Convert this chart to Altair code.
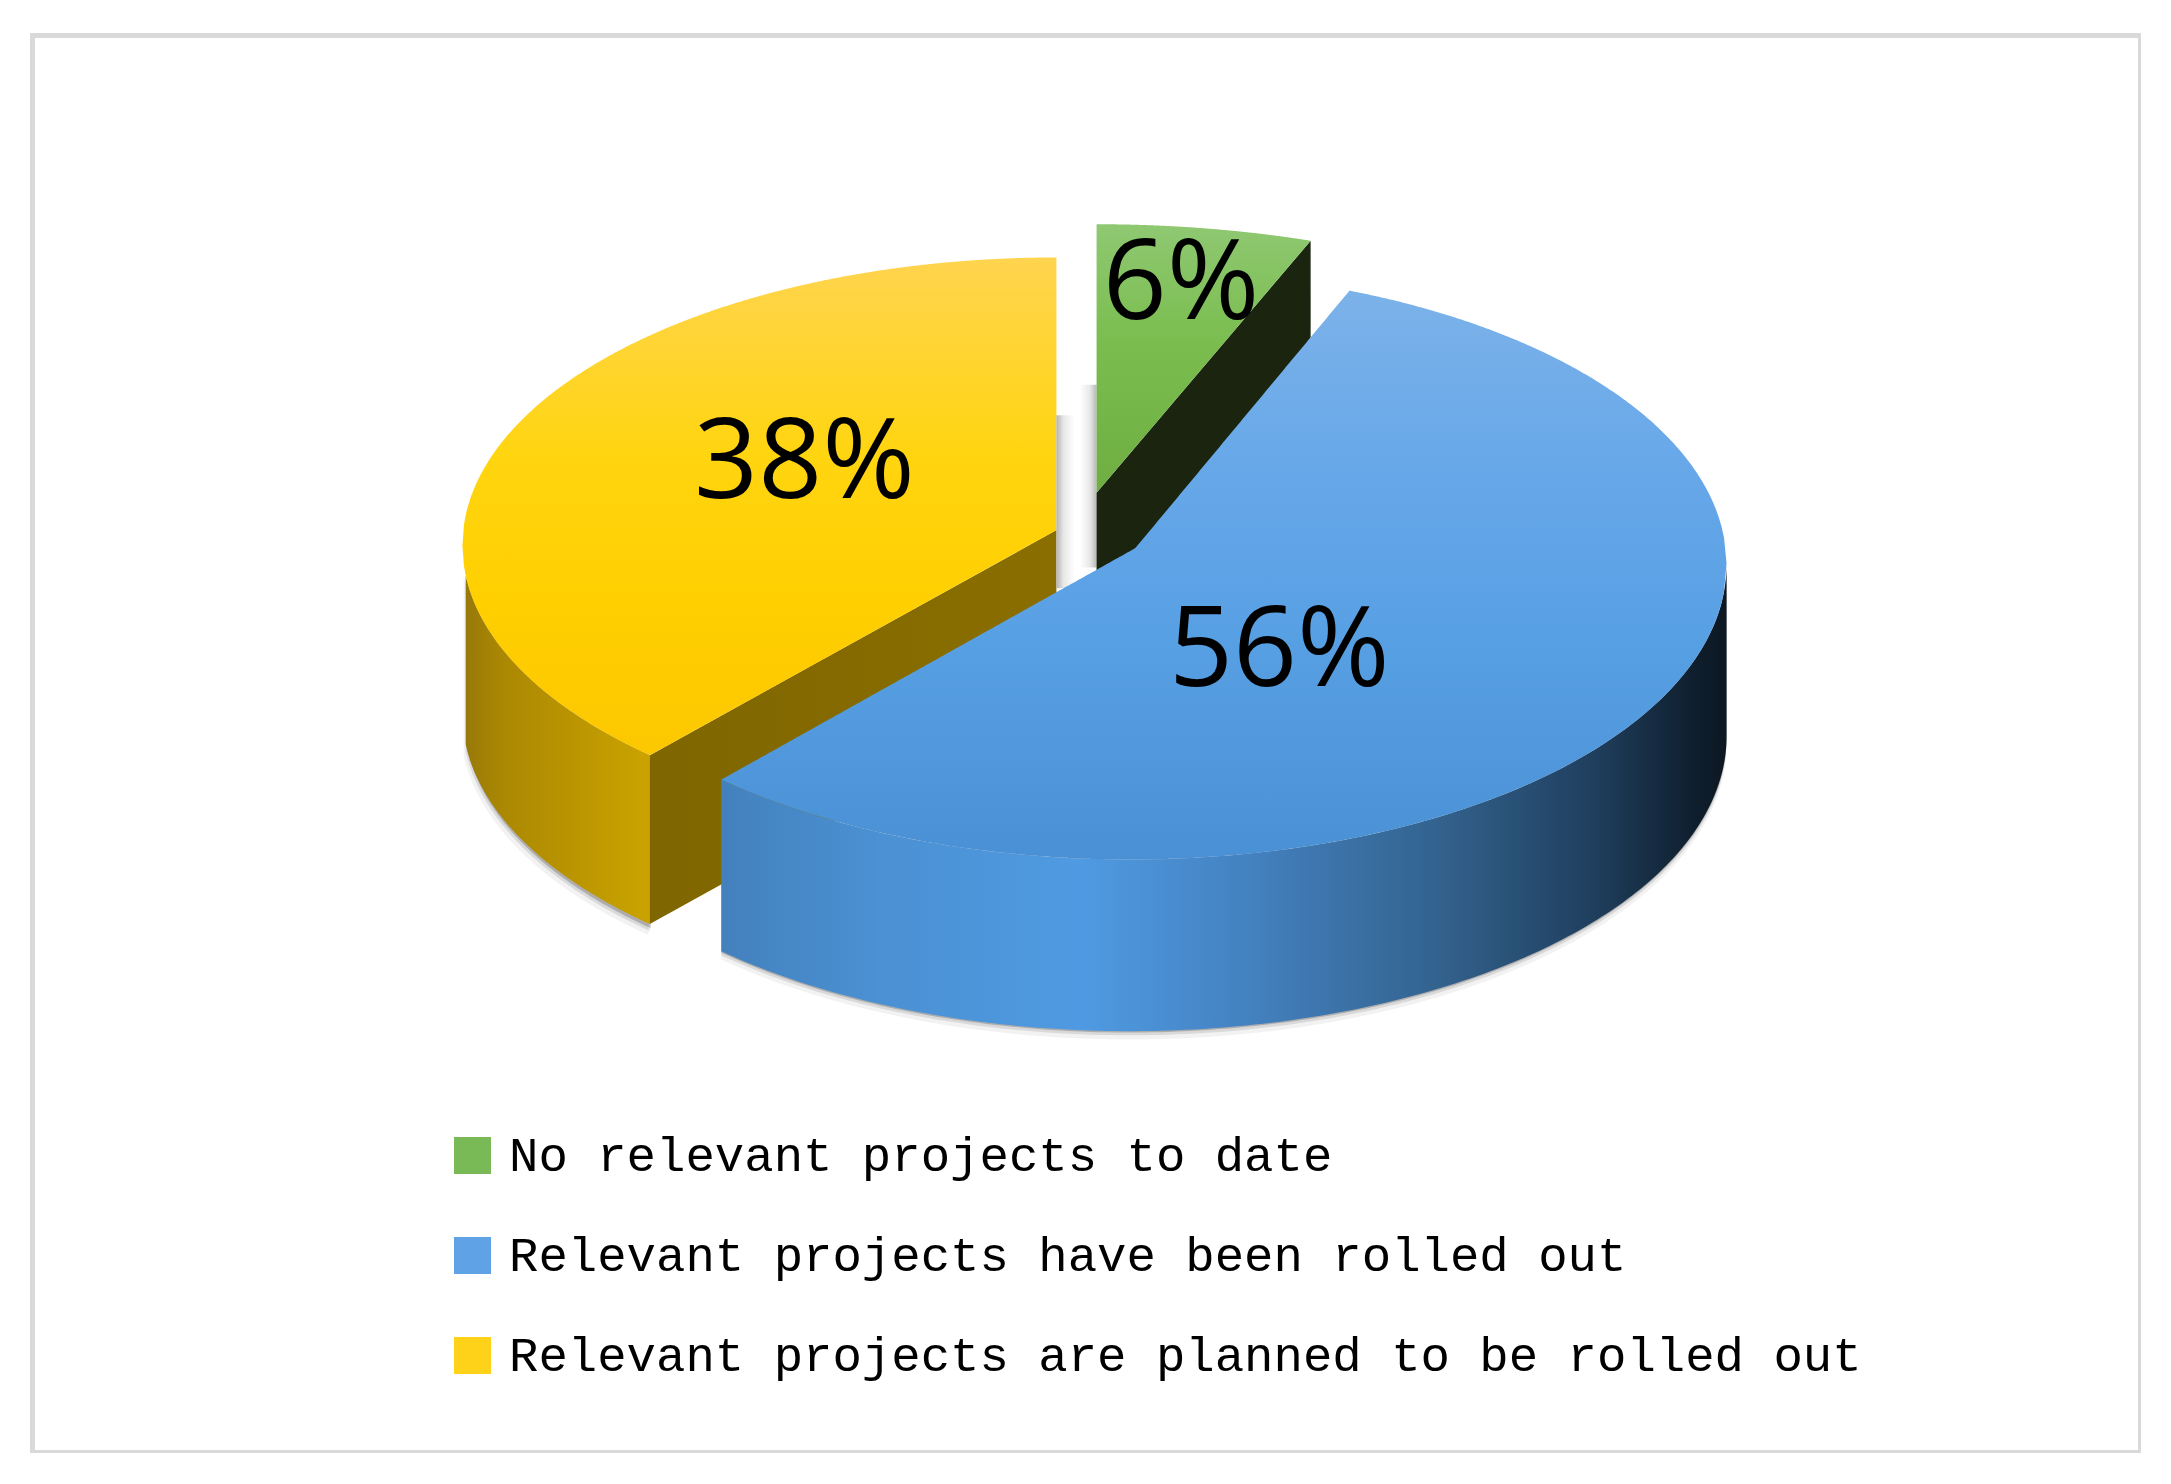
import numpy as np
import pandas as pd
import altair as alt

# Chart values
labels = ["No relevant projects to date",
          "Relevant projects have been rolled out",
          "Relevant projects are planned to be rolled out"]
shares = [6, 56, 38]
share_text = ["6%", "56%", "38%"]
legend_colors = ["#7aba56", "#5fa3e6", "#ffd21a"]

# Layout: coordinates are those of the 1568-wide view of the reference
K = 2171 / 1568
XD = [32.5 / K, 2140.5 / K]
YD = [1453 / K, 35.5 / K]
W, H = 2108, 1417
xs = alt.Scale(domain=XD, range=[0, W], nice=False, zero=False)
ys = alt.Scale(domain=YD, range=[H, 0], nice=False, zero=False)
DEPTH = 123


def grad_y(stops):
    return alt.Gradient(gradient="linear", x1=0, x2=0, y1=0, y2=1,
                        stops=[alt.GradientStop(color=c, offset=o) for o, c in stops])


def grad_x(stops):
    return alt.Gradient(gradient="linear", x1=0, x2=1, y1=0, y2=0,
                        stops=[alt.GradientStop(color=c, offset=o) for o, c in stops])


def arc(cx, cy, a, b, t1, t2, n=160):
    t = np.radians(np.linspace(t1, t2, n))
    return cx + a * np.cos(t), cy - b * np.sin(t)


def sector_frame(cx, cy, a, b, apex, t1, t2):
    """Upper and lower outline of a sector, sampled along x."""
    px, py = arc(cx, cy, a, b, t1, t2, 300)
    px = np.r_[px, apex[0], px[0]]
    py = np.r_[py, apex[1], py[0]]
    grid = np.unique(np.r_[np.linspace(px.min(), px.max(), 400), px[[0, 299]], apex[0]])
    rows = []
    for x in grid:
        hits = []
        for i in range(len(px) - 1):
            x0, x1 = px[i], px[i + 1]
            if min(x0, x1) <= x <= max(x0, x1):
                if x0 == x1:
                    hits += [py[i], py[i + 1]]
                else:
                    hits.append(py[i] + (x - x0) / (x1 - x0) * (py[i + 1] - py[i]))
        if hits:
            rows.append((x, min(hits), max(hits)))
    return pd.DataFrame(rows, columns=["x", "y", "y2"])


def band(x, y, y2):
    return pd.DataFrame({"x": x, "y": y, "y2": y2})


def area(df, fill, **kw):
    return alt.Chart(df).mark_area(color=fill, **kw).encode(
        x=alt.X("x:Q", scale=xs, axis=None),
        y=alt.Y("y:Q", scale=ys, axis=None),
        y2="y2:Q",
    )


# Sector angles follow the shares: yellow runs counter-clockwise from 12 o'clock
deg = [s * 3.6 for s in shares]
y_start, y_end = 90, 90 + deg[2]
b_start, b_end = y_end, y_end + deg[1]
g_start, g_end = b_end, b_end + deg[0]

Y = dict(cx=763, cy=394, a=429, b=208, apex=(763, 383))
B = dict(cx=816, cy=408, a=431, b=213, apex=(820, 396))
G = dict(cx=792, cy=332, a=420, b=170, apex=(792, 356))

layers = []

# soft shadows under the outer walls
for d, op in [(7, 0.05), (4, 0.10), (2, 0.20)]:
    sx, sy = arc(Y["cx"], Y["cy"], Y["a"] - 2 + d * 0.5, Y["b"], 186, y_end)
    layers.append(area(band(sx, sy, sy + DEPTH + d), "#000000", opacity=op))
    sx, sy = arc(B["cx"], B["cy"], B["a"], B["b"], b_start, 360)
    layers.append(area(band(sx, sy, sy + DEPTH + d), "#000000", opacity=op))

# yellow walls
ox, oy = arc(Y["cx"], Y["cy"], Y["a"], Y["b"], 186, y_end)
layers.append(area(band(ox, oy, oy + DEPTH - 1), grad_x([(0, "#98790a"), (0.2, "#ab8802"), (1, "#cba300")])))
ex, ey = ox[-1], oy[-1]
layers.append(area(band([ex, Y["apex"][0]], [ey, Y["apex"][1]], [ey + DEPTH - 1, Y["apex"][1] + DEPTH - 1]),
                   grad_x([(0, "#7f6600"), (1, "#8a6e00")])))
layers.append(area(sector_frame(Y["cx"], Y["cy"], Y["a"], Y["b"], Y["apex"], y_start, y_end),
                   grad_y([(0, "#ffd44f"), (0.4, "#ffd510"), (0.7, "#ffcf00"), (1, "#fcc700")])))

# shadows inside the gap
layers.append(area(band([763, 776], [300, 300], [425, 425]),
                   grad_x([(0, "#b4b4b4"), (0.4, "#e8e8e8"), (1, "#ffffff")])))
layers.append(area(band([780, 792], [278, 278], [410, 410]),
                   grad_x([(0, "#ffffff"), (0.6, "#e8e8e8"), (1, "#b8b8b8")])))

# green wedge
gx, gy = arc(G["cx"], G["cy"], G["a"], G["b"], g_start, g_end)
cx0, cy0 = gx[0], gy[0]
layers.append(area(band([G["apex"][0], cx0], [G["apex"][1], cy0], [G["apex"][1] + DEPTH, cy0 + DEPTH]), "#1a240f"))
layers.append(area(sector_frame(G["cx"], G["cy"], G["a"], G["b"], G["apex"], g_start, g_end),
                   grad_y([(0, "#8fc872"), (0.45, "#7abd4e"), (1, "#6fae42")])))

# blue walls and face
bx, by = arc(B["cx"], B["cy"], B["a"], B["b"], b_start, 360)
layers.append(area(band(bx, by, by + DEPTH + 1),
                   grad_x([(0, "#4381bd"), (0.16, "#4b91d3"), (0.36, "#4f9ae2"), (0.52, "#4482c1"),
                           (0.71, "#33638f"), (0.87, "#1f3e5d"), (0.97, "#0f1e2d"), (1, "#0c1822")])))
layers.append(area(sector_frame(B["cx"], B["cy"], B["a"], B["b"], B["apex"], b_start, b_end),
                   grad_y([(0, "#7cb2e9"), (0.3, "#68a8e9"), (0.6, "#58a0e4"), (1, "#4a90d4")])))

# share labels
label_df = pd.DataFrame({"text": share_text, "x": [853, 924, 581], "y": [206, 471, 335]})
layers.append(alt.Chart(label_df).mark_text(font="Open Sans", fontSize=112, color="#000000",
                                            align="center", baseline="middle").encode(
    x=alt.X("x:Q", scale=xs, axis=None),
    y=alt.Y("y:Q", scale=ys, axis=None),
    text="text:N",
))

# legend carrier
leg_df = pd.DataFrame({"label": labels, "x": [400, 400, 400], "y": [800, 800, 800]})
layers.append(alt.Chart(leg_df).mark_point(filled=True, shape="square", size=0, opacity=1).encode(
    x=alt.X("x:Q", scale=xs, axis=None),
    y=alt.Y("y:Q", scale=ys, axis=None),
    color=alt.Color("label:N",
                    scale=alt.Scale(domain=labels, range=legend_colors),
                    sort=labels,
                    legend=alt.Legend(orient="none", legendX=415.5, legendY=1095.5, title=None,
                                      symbolType="square", symbolSize=1369, symbolStrokeWidth=0,
                                      labelFont="Liberation Mono", labelFontSize=49,
                                      labelColor="#000000", labelLimit=1600, labelOffset=12,
                                      rowPadding=50, padding=0)),
))

chart = alt.layer(*layers).resolve_scale(color="independent").properties(
    width=W, height=H,
    padding={"left": 24.5, "top": 27.5, "right": 0, "bottom": 0},
    autosize=alt.AutoSizeParams(type="none"),
    background="#ffffff",
).configure_view(stroke="#d9d9d9", strokeWidth=5)

chart.save("out.html", embed_options={"renderer": "svg", "actions": False})
